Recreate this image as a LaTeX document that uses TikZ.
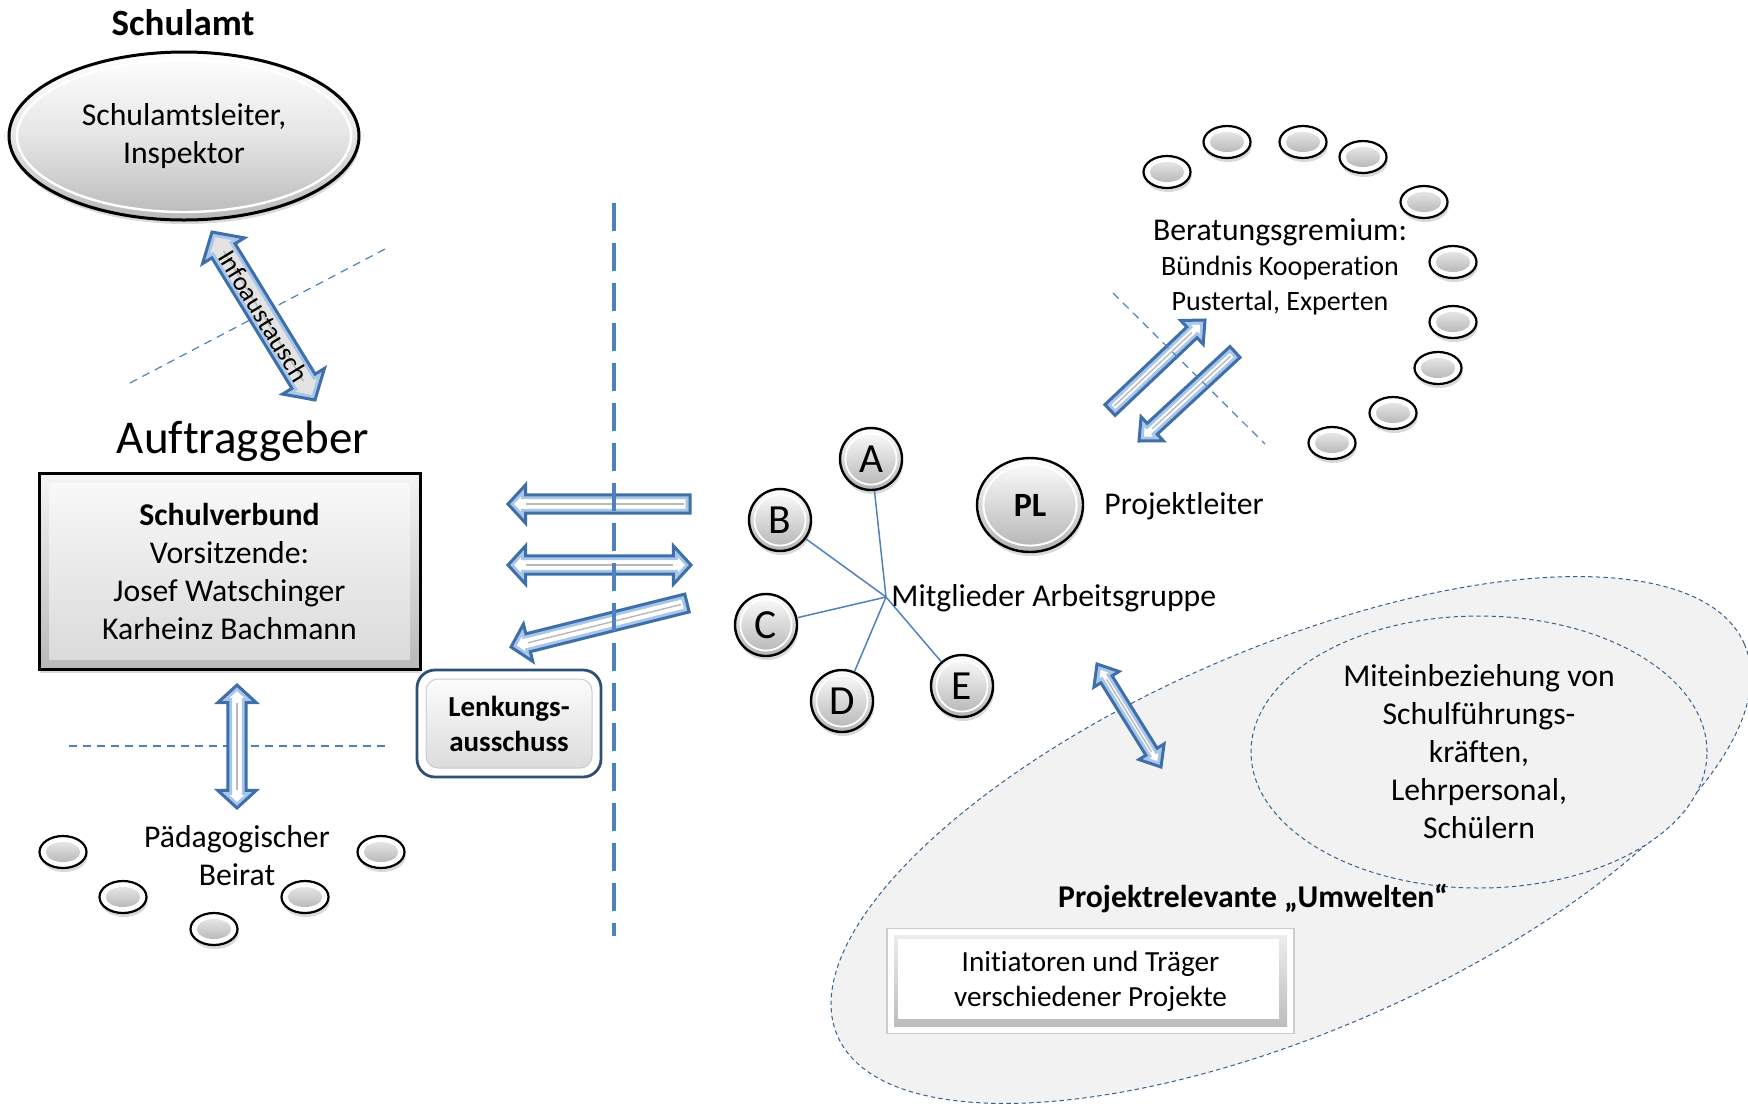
\documentclass[tikz,border=0pt]{standalone}
\usepackage{fontspec}
\setmainfont{Carlito}[Ligatures=CommonOff]
\usetikzlibrary{calc,shapes.geometric,shadows}
\definecolor{ablue}{HTML}{4F81BD}
\definecolor{adark}{HTML}{3F6FA8}
\definecolor{alight}{HTML}{A8C6EA}
\definecolor{edash}{HTML}{35608F}
\definecolor{envfill}{HTML}{F2F2F2}
\definecolor{lenkc}{HTML}{2E5077}

\newcommand\sarrowpath[5]{($(#1)!#3!90:(#2)$) -- ($(#2)!#5!(#1)!#3!270:(#1)$) -- ($(#2)!#5!(#1)!#4!270:(#1)$) -- (#2) -- ($(#2)!#5!(#1)!#4!90:(#1)$) -- ($(#2)!#5!(#1)!#3!90:(#1)$) -- ($(#1)!#3!270:(#2)$) -- cycle}
\newcommand\darrowpath[5]{(#1) -- ($(#1)!#5!(#2)!#4!90:(#2)$) -- ($(#1)!#5!(#2)!#3!90:(#2)$) -- ($(#2)!#5!(#1)!#3!270:(#1)$) -- ($(#2)!#5!(#1)!#4!270:(#1)$) -- (#2) -- ($(#2)!#5!(#1)!#4!90:(#1)$) -- ($(#2)!#5!(#1)!#3!90:(#1)$) -- ($(#1)!#5!(#2)!#3!270:(#2)$) -- ($(#1)!#5!(#2)!#4!270:(#2)$) -- cycle}
\newcommand\sarrow[5]{%
  \begin{scope}
  \clip \sarrowpath{#1}{#2}{#3}{#4}{#5};
  \fill[white] \sarrowpath{#1}{#2}{#3}{#4}{#5};
  \draw[barrowhi] \sarrowpath{#1}{#2}{#3}{#4}{#5};
  \end{scope}
  \draw[barrow] \sarrowpath{#1}{#2}{#3}{#4}{#5};
  \draw[barrowmid] ($(#1)!3pt!(#2)$) -- ($(#2)!#5!(#1)$);}
\newcommand\darrow[6][white]{%
  \begin{scope}
  \clip \darrowpath{#2}{#3}{#4}{#5}{#6};
  \fill[#1] \darrowpath{#2}{#3}{#4}{#5}{#6};
  \draw[barrowhi] \darrowpath{#2}{#3}{#4}{#5}{#6};
  \end{scope}
  \draw[barrow] \darrowpath{#2}{#3}{#4}{#5}{#6};
  \draw[barrowmid] ($(#2)!#6!(#3)$) -- ($(#3)!#6!(#2)$);}

\tikzset{
 body/.style={font=\fontsize{15.85}{19}\selectfont, align=center, inner sep=0pt},
 shad/.style={drop shadow={opacity=0.3, shadow xshift=0.6pt, shadow yshift=-2pt}},
 schell/.style={ellipse, minimum width=175pt, minimum height=84pt, inner sep=0pt, draw=black,
   line width=1.5pt, top color=white, bottom color=gray!55, middle color=gray!20, shad,
   path picture={\draw[white, line width=1.2pt] (path picture bounding box.center) ellipse [x radius=83.5pt, y radius=38pt];}},
 verbox/.style={rectangle, minimum width=190.5pt, minimum height=98pt, inner sep=0pt, draw=black,
   line width=1.5pt, top color=gray!8, bottom color=gray!55, shad,
   path picture={\shade[top color=gray!4, bottom color=gray!30] ([shift={(5pt,5pt)}]path picture bounding box.south west) rectangle ([shift={(-5pt,-5pt)}]path picture bounding box.north east);}},
 lenkbox/.style={rectangle, rounded corners=9pt, minimum width=92pt, minimum height=53.5pt, inner sep=0pt,
   draw=lenkc, line width=1.4pt, fill=white, align=center, font=\bfseries\fontsize{14.5}{17.5}\selectfont,
   path picture={\shadedraw[top color=white, bottom color=gray!30, draw=gray!40, rounded corners=6pt, line width=0.5pt] ([shift={(4.5pt,4.5pt)}]path picture bounding box.south west) rectangle ([shift={(-4.5pt,-4.5pt)}]path picture bounding box.north east);}},
 letter/.style={circle, minimum size=31pt, inner sep=0pt, draw=black, line width=1.2pt,
   top color=white, bottom color=gray!60, shad, font=\fontsize{20.7}{24}\selectfont,
   path picture={\draw[white, line width=0.9pt] (path picture bounding box.center) circle (12.8pt);}},
 plnode/.style={ellipse, minimum width=53pt, minimum height=47pt, inner sep=0pt, draw=black, line width=1.2pt,
   top color=white, bottom color=gray!60, shad, font=\bfseries\fontsize{17}{20}\selectfont,
   path picture={\draw[white, line width=1pt] (path picture bounding box.center) ellipse [x radius=23.3pt, y radius=20.3pt];}},
 oval/.style={ellipse, minimum width=23.5pt, minimum height=16pt, inner sep=0pt, draw=black, line width=1.1pt,
   fill=white, shad,
   path picture={\shade[top color=gray!10, bottom color=gray!65] (path picture bounding box.center) ellipse [x radius=8.6pt, y radius=5pt];}},
 initbox/.style={rectangle, minimum width=203.5pt, minimum height=52.5pt, inner sep=0pt, draw=gray!40,
   line width=0.6pt, fill=white, align=center, font=\fontsize{14.6}{17.5}\selectfont,
   path picture={\shade[top color=gray!12, bottom color=gray!55] ([shift={(3.5pt,3.5pt)}]path picture bounding box.south west) rectangle ([shift={(-3.5pt,-3.5pt)}]path picture bounding box.north east);
     \fill[white] ([shift={(5.5pt,7.5pt)}]path picture bounding box.south west) rectangle ([shift={(-7.5pt,-5pt)}]path picture bounding box.north east);}},
 barrow/.style={draw=adark, line width=1.5pt, line join=miter, miter limit=6},
 barrowhi/.style={draw=alight, line width=4.4pt, line join=miter, miter limit=6},
 barrowmid/.style={draw=gray!55, line width=0.7pt},
 maindash/.style={draw=ablue, line width=1.8pt, dash pattern=on 14pt off 6pt},
 thindash/.style={draw=ablue, line width=0.6pt, dash pattern=on 4pt off 3pt},
 envdash/.style={draw=edash, line width=0.5pt, dash pattern=on 2.2pt off 1.6pt, fill=envfill},
 hubline/.style={draw=ablue, line width=0.75pt},
}

\begin{document}
\begin{tikzpicture}[x=0.5pt, y=-0.5pt]
\useasboundingbox (0,0) rectangle (1748,1109);
\clip (0,0) rectangle (1748,1109);

% environment ellipses
\coordinate (env) at (1291,840);
\draw[envdash, rotate around={23.35:(env)}] (env) ellipse [x radius=247pt, y radius=96pt];
\node[envdash, ellipse, minimum width=228pt, minimum height=136pt, inner sep=0pt, body] (mitein) at (1479,752)
  {Miteinbeziehung von\\Schulführungs-\\kräften,\\Lehrpersonal,\\Schülern};

% dashed helper lines (behind)
\coordinate (d1a) at (130,383); \coordinate (d1b) at (387,248);
\draw[thindash] (d1a) -- (d1b);
\coordinate (d2a) at (69,746); \coordinate (d2b) at (386,746);
\draw[thindash] (d2a) -- (d2b);

% Schulamt
\node[font=\bfseries\fontsize{18.5}{22}\selectfont, inner sep=0pt, anchor=base] (schulamttitle) at (183,35) {Schulamt};
\node[schell, body] (schulamt) at (184,136) {Schulamtsleiter,\\Inspektor};

% Auftraggeber
\node[font=\fontsize{23.5}{28}\selectfont, inner sep=0pt, anchor=base] (auftraggeber) at (243,453) {Auftraggeber};
\node[verbox, body] (verbund) at (229.5,571) {\textbf{Schulverbund}\\Vorsitzende:\\Josef Watschinger\\Karheinz Bachmann};
\node[lenkbox] (lenkung) at (509,723.5) {Lenkungs-\\ausschuss};

% Beirat
\node[body] (beirat) at (237,856) {Pädagogischer\\Beirat};
\node[oval] (p1) at (63,852) {};
\node[oval] (p2) at (123,897) {};
\node[oval] (p3) at (214,929) {};
\node[oval] (p4) at (305,897) {};
\node[oval] (p5) at (381,852) {};

% Arbeitsgruppe
\coordinate (hub) at (886,597);
\node[letter] (A) at (871,459) {A};
\node[letter] (B) at (780,520) {B};
\node[letter] (C) at (766,625) {C};
\node[letter] (D) at (842,701) {D};
\node[letter] (E) at (962,686) {E};
\foreach \n in {A,B,C,D,E} \draw[hubline] (hub) -- (\n);
\node[body, anchor=base west] (mitglieder) at (891,606) {Mitglieder Arbeitsgruppe};
\node[plnode] (PL) at (1030,505) {PL};
\node[body, anchor=base west] (projektleiter) at (1104,514) {Projektleiter};

% Beratungsgremium
\node[align=center, inner sep=0pt, font=\fontsize{14}{17.5}\selectfont] (beratung) at (1280,267)
  {{\fontsize{15.85}{17.5}\selectfont Beratungsgremium:}\\Bündnis Kooperation\\Pustertal, Experten};
\node[oval] (r1) at (1167,172) {};
\node[oval] (r2) at (1227,142) {};
\node[oval] (r3) at (1303,142) {};
\node[oval] (r4) at (1363,157) {};
\node[oval] (r5) at (1424,202) {};
\node[oval] (r6) at (1453,262) {};
\node[oval] (r7) at (1453,322) {};
\node[oval] (r8) at (1438,368) {};
\node[oval] (r9) at (1393,413) {};
\node[oval] (r10) at (1332,443) {};

% Umwelten
\node[font=\bfseries\fontsize{15.85}{19}\selectfont, inner sep=0pt, anchor=base] (umwelten) at (1253,907) {Projektrelevante „Umwelten“};
\node[initbox] (init) at (1090.5,981) {Initiatoren und Träger\\verschiedener Projekte};

% block arrows
\coordinate (i1) at (212,232); \coordinate (i2) at (315,400);
\darrow[gray!22]{i1}{i2}{6.8pt}{12.3pt}{11pt}
\node[font=\fontsize{13.2}{16}\selectfont, rotate=-58.6, inner sep=0pt] (infolbl) at ($(i1)!0.5!(i2)$) {Infoaustausch};

\coordinate (a1t) at (690,504); \coordinate (a1h) at (508,504);
\sarrow{a1t}{a1h}{4.6pt}{9.6pt}{8.8pt}
\coordinate (a2l) at (508,565); \coordinate (a2r) at (691,565);
\darrow{a2l}{a2r}{4.6pt}{9.6pt}{8.8pt}
\coordinate (a3t) at (687,603); \coordinate (a3h) at (511,647);
\sarrow{a3t}{a3h}{4.6pt}{9.6pt}{8.8pt}

\coordinate (v1) at (237,685); \coordinate (v2) at (237,808);
\darrow{v1}{v2}{4.6pt}{9.6pt}{8.8pt}

\coordinate (u1t) at (1110,410); \coordinate (u1h) at (1205,320);
\sarrow{u1t}{u1h}{3.7pt}{8.2pt}{9pt}
\coordinate (u2t) at (1235,352); \coordinate (u2h) at (1139,441);
\sarrow{u2t}{u2h}{3.7pt}{8.2pt}{9pt}

\coordinate (w1) at (1097,664); \coordinate (w2) at (1161,767);
\darrow{w1}{w2}{3.3pt}{7.4pt}{9pt}

% dashed lines on top
\coordinate (m1) at (614,203); \coordinate (m2) at (614,936);
\draw[maindash] (m1) -- (m2);
\coordinate (d3a) at (1113,293); \coordinate (d3b) at (1265,444);
\draw[thindash] (d3a) -- (d3b);
\end{tikzpicture}
\end{document}
